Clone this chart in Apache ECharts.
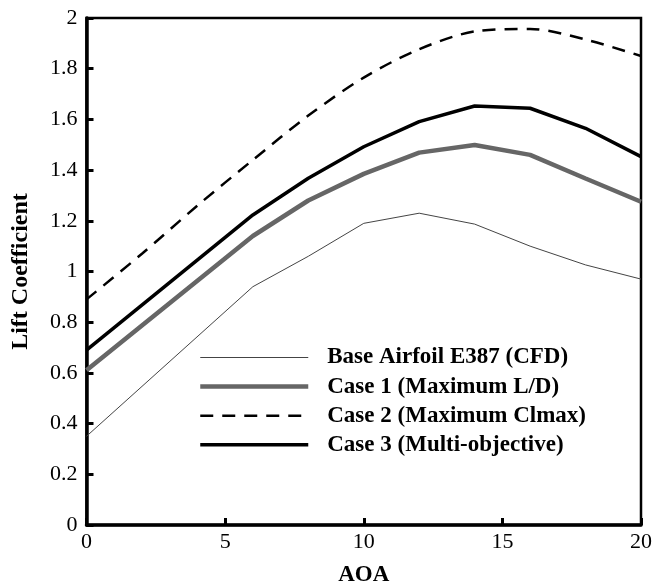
<!DOCTYPE html>
<html>
<head>
<meta charset="utf-8">
<script src="https://cdn.jsdelivr.net/npm/echarts@6/dist/echarts.min.js"></script>
<style>
html, body { margin: 0; padding: 0; background: #fff; }
#main { width: 655px; height: 582px; }
</style>
</head>
<body>
<div id="main"></div>
<script>
// AOA values and lift coefficients
var aoa = [0, 6, 8, 10, 12, 14, 16, 18, 20];
var aoaCase2 = [0, 2, 4, 6, 8, 10, 12, 14, 16, 18, 20];
var baseCl = [0.35, 0.94, 1.06, 1.19, 1.23, 1.187, 1.10, 1.026, 0.97];
var case1Cl = [0.61, 1.14, 1.28, 1.385, 1.469, 1.499, 1.46, 1.367, 1.275];
var case2Cl = [0.89, 1.07, 1.26, 1.44, 1.615, 1.765, 1.877, 1.947, 1.957, 1.915, 1.85];
var case3Cl = [0.69, 1.223, 1.368, 1.492, 1.591, 1.653, 1.644, 1.565, 1.453];
var names = ['Base Airfoil E387 (CFD)', 'Case 1 (Maximum L/D)', 'Case 2 (Maximum Clmax)', 'Case 3 (Multi-objective)'];

function pairs(xs, ys) {
    var out = [];
    for (var i = 0; i < xs.length; i++) out.push([xs[i], ys[i]]);
    return out;
}

var FONT = '"Liberation Serif", "Times New Roman", serif';

var chart = echarts.init(document.getElementById('main'));
chart.setOption({
    backgroundColor: '#fff',
    animation: false,
    textStyle: { fontFamily: FONT },
    grid: {
        left: 86.5, right: 14, top: 18, bottom: 57,
        containLabel: false, outerBoundsMode: 'none',
        show: true, borderColor: '#000', borderWidth: 2.5
    },
    legend: {
        orient: 'vertical',
        left: 193, top: 341,
        itemWidth: 108, itemHeight: 20, itemGap: 6.1,
        data: names,
        itemStyle: { opacity: 0 },
        lineStyle: { width: 'inherit' },
        textStyle: { fontFamily: FONT, fontSize: 23, fontWeight: 'bold', color: '#000', padding: [0, 0, 0, 14] }
    },
    xAxis: {
        type: 'value', min: 0, max: 20, interval: 5,
        name: 'AOA', nameLocation: 'middle', nameGap: 39, nameMoveOverlap: false,
        nameTextStyle: { fontFamily: FONT, fontSize: 23, fontWeight: 'bold', color: '#000' },
        axisLine: { lineStyle: { color: '#000', width: 3.5 } },
        axisTick: { inside: true, length: 7, lineStyle: { color: '#000', width: 3 } },
        axisLabel: { fontFamily: FONT, fontSize: 22, color: '#000', margin: 6 },
        splitLine: { show: false }
    },
    yAxis: {
        type: 'value', min: 0, max: 2, interval: 0.2,
        name: 'Lift Coefficient', nameLocation: 'middle', nameGap: 54,
        nameTextStyle: { fontFamily: FONT, fontSize: 24, fontWeight: 'bold', color: '#000' },
        axisLine: { lineStyle: { color: '#000', width: 3.5 } },
        axisTick: { inside: true, length: 7, lineStyle: { color: '#000', width: 3 } },
        axisLabel: { fontFamily: FONT, fontSize: 22, color: '#000', margin: 9 },
        splitLine: { show: false }
    },
    series: [
        { name: names[0], type: 'line', symbol: 'none', data: pairs(aoa, baseCl),
          lineStyle: { color: '#444', width: 1 }, itemStyle: { color: '#444' } },
        { name: names[1], type: 'line', symbol: 'none', data: pairs(aoa, case1Cl),
          lineStyle: { color: '#666', width: 4.5 }, itemStyle: { color: '#666' } },
        { name: names[2], type: 'line', symbol: 'none', smooth: 0.3, data: pairs(aoaCase2, case2Cl),
          lineStyle: { color: '#000', width: 2.5, type: [13, 9] }, itemStyle: { color: '#000' } },
        { name: names[3], type: 'line', symbol: 'none', data: pairs(aoa, case3Cl),
          lineStyle: { color: '#000', width: 3.5 }, itemStyle: { color: '#000' } }
    ]
});
</script>
</body>
</html>
